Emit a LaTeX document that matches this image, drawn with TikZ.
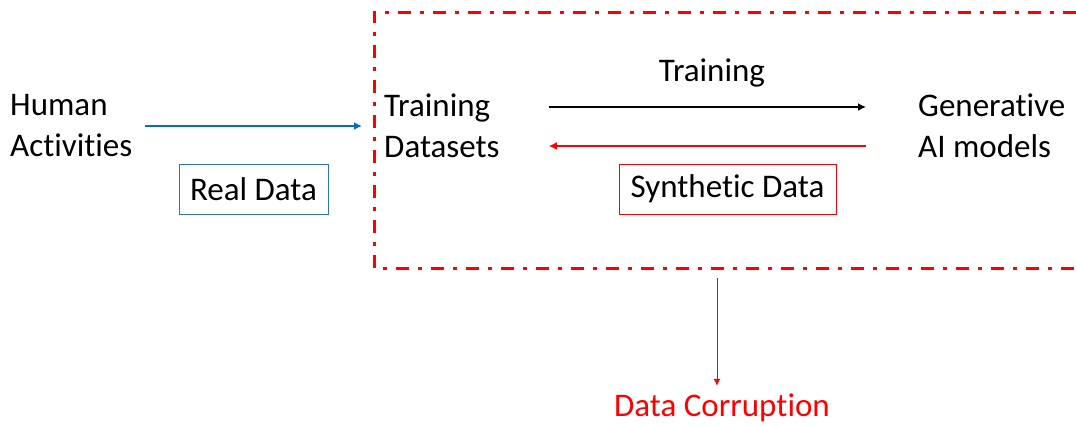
\documentclass[tikz,border=0pt]{standalone}
\usepackage{fontspec}
\setmainfont{Carlito}[Ligatures={NoCommon,NoRequired,NoContextual}]
\usepackage{tikz}
\usetikzlibrary{calc}
\usetikzlibrary{arrows.meta}
\usetikzlibrary{positioning}
\definecolor{DataBlue}{RGB}{0,112,192}
\definecolor{TagBlue}{RGB}{46,117,182}
\definecolor{PureRed}{RGB}{255,0,0}

\tikzset{
	txt/.style={inner sep=0pt, align=left, font=\fontsize{33}{41}\selectfont},
	tagbox/.style={draw, line width=1pt, inner sep=0pt, minimum height=50pt, font=\fontsize{33}{41}\selectfont},
	flow/.style={line width=2pt, -{Latex[length=8pt,width=8pt]}},
	loopbox/.style={draw=PureRed, line width=3pt, dash pattern=on 13pt off 9pt on 4pt off 9pt}
}

\begin{document}
\begin{tikzpicture}[x=1pt,y=-1pt]
	\useasboundingbox (0,0) rectangle (1076,426);

		% the loop
		\coordinate (boxTR) at (1076,12);
		\coordinate (boxTL) at (374,12);
		\coordinate (boxBL) at (374,268);
		\coordinate (boxBR) at (1076,268);
		\draw [loopbox] (boxTR) -- (boxTL) -- (boxBL) -- (boxBR);

		\node [txt, anchor=west] (human) at (10,126) {Human\\Activities};
		\node [txt, anchor=west] (datasets) at (384,126) {Training\\Datasets};
		\node [txt, anchor=west] (genai) at (918,126) {Generative\\AI models};

		\node [tagbox, draw=TagBlue, minimum width=149pt] (real) at (253.5,189) {Real Data};
		\node [tagbox, draw=PureRed, minimum width=217pt] (synth) at (727.5,189) {Synthetic Data};
		\node [txt] (train) at (712,73) {Training};
		\node [txt, text=PureRed] (corrupt) at (722,408) {Data Corruption};

		\draw [flow, DataBlue, shorten <=12pt, shorten >=22pt] (human.east) -- (datasets.west);
		\draw [flow, black, shorten <=49pt, shorten >=52pt] ([yshift=19pt]datasets.east) -- ([yshift=19pt]genai.west);
		\draw [flow, PureRed, shorten <=52pt, shorten >=49pt] ([yshift=-20pt]genai.west) -- ([yshift=-20pt]datasets.east);

		\coordinate (drop) at (717,278);
		\draw [PureRed, line width=1pt, -{Latex[length=7pt,width=7pt]}, shorten >=8pt] (drop) -- (drop |- corrupt.north);
\end{tikzpicture}
\end{document}
